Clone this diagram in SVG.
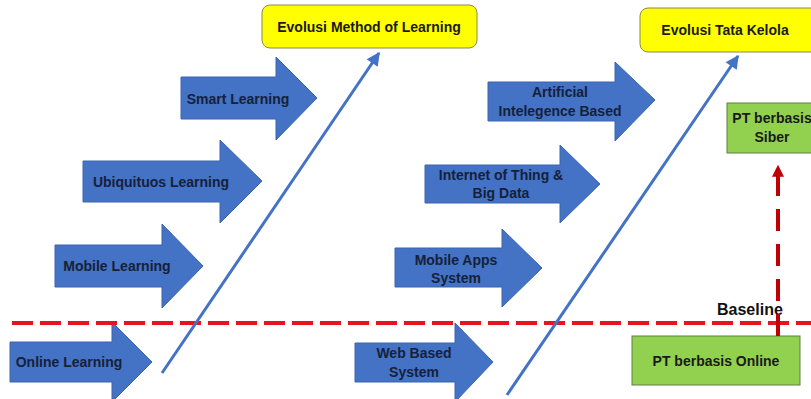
<svg xmlns="http://www.w3.org/2000/svg" width="811" height="399" viewBox="0 0 811 399">
<style>
.arr{fill:#4472C4;stroke:#3A64B0;stroke-width:1}
.at{font-family:"Liberation Sans",Arial,sans-serif;font-weight:bold;font-size:14px;fill:#15213A;text-anchor:middle}
.bt{font-family:"Liberation Sans",Arial,sans-serif;font-weight:bold;font-size:14px;fill:#1A1A1A;text-anchor:middle}
.yel{fill:#FFFF00;stroke:#8A8A4A;stroke-width:1}
.grn{fill:#92D050;stroke:#5E7F45;stroke-width:1}
.diag{stroke:#4472C4;stroke-width:3;fill:none}
</style>
<defs>
<marker id="bh" viewBox="0 0 10 10" refX="9" refY="5" markerWidth="5" markerHeight="4.5" orient="auto" markerUnits="strokeWidth">
<path d="M0,0 L10,5 L0,10 Z" fill="#4472C4"/>
</marker>
<marker id="rh" viewBox="0 0 10 10" refX="9" refY="5" markerWidth="3" markerHeight="3" orient="auto" markerUnits="strokeWidth">
<path d="M0,0 L10,5 L0,10 Z" fill="#C00000"/>
</marker>
</defs>
<rect width="811" height="399" fill="#FFFFFF"/>

<g id="yellow-left">
<rect class="yel" x="262" y="5" width="215" height="43" rx="8"/>
<text class="bt" x="369" y="32">Evolusi Method of Learning</text>
</g>
<g id="yellow-right">
<rect class="yel" x="640" y="8" width="180" height="44" rx="8"/>
<text class="bt" x="725" y="35">Evolusi Tata Kelola</text>
</g>

<g id="smart-learning">
<path class="arr" d="M181,77 H276 V57 L317,98 L276,140 V119 H181 Z"/>
<text class="at" x="238" y="104">Smart Learning</text>
</g>
<g id="ubiquituos-learning">
<path class="arr" d="M83,161 H220 V140 L262,181 L220,223 V202 H83 Z"/>
<text class="at" x="161" y="187">Ubiquituos Learning</text>
</g>
<g id="mobile-learning">
<path class="arr" d="M55,245 H162 V224 L203,266 L162,308 V287 H55 Z"/>
<text class="at" x="117" y="271">Mobile Learning</text>
</g>
<g id="online-learning">
<path class="arr" d="M10,342 H112 V322 L152,362 L112,402 V382 H10 Z"/>
<text class="at" x="69" y="367">Online Learning</text>
</g>

<g id="ai-based">
<path class="arr" d="M488,82 H615 V62 L655,100 L615,141 V121 H488 Z"/>
<text class="at" x="560" y="97">Artificial</text>
<text class="at" x="560" y="116">Intelegence Based</text>
</g>
<g id="iot-bigdata">
<path class="arr" d="M425,165 H560 V145 L600,184 L560,223 V203 H425 Z"/>
<text class="at" x="501" y="180">Internet of Thing &amp;</text>
<text class="at" x="501" y="198">Big Data</text>
</g>
<g id="mobile-apps">
<path class="arr" d="M395,248 H502 V229 L542,268 L502,307 V287 H395 Z"/>
<text class="at" x="456" y="265">Mobile Apps</text>
<text class="at" x="456" y="283">System</text>
</g>
<g id="web-based">
<path class="arr" d="M355,343 H455 V323 L493,362 L455,402 V382 H355 Z"/>
<text class="at" x="414" y="358">Web Based</text>
<text class="at" x="414" y="377">System</text>
</g>

<g id="pt-siber">
<rect class="grn" x="727" y="103" width="92" height="50"/>
<text class="bt" x="772" y="123">PT berbasis</text>
<text class="bt" x="772" y="142">Siber</text>
</g>
<g id="pt-online">
<rect class="grn" x="632" y="336" width="168" height="49"/>
<text class="bt" x="716" y="366">PT berbasis Online</text>
</g>
<g id="baseline-label">
<text x="717" y="315" font-family="'Liberation Sans',Arial,sans-serif" font-weight="bold" font-size="16" fill="#111111">Baseline</text>
</g>

<g id="connectors">
<line x1="12" y1="323" x2="811" y2="323" stroke="#E8141C" stroke-width="4" stroke-dasharray="21 7"/>
<line class="diag" x1="162" y1="373" x2="379" y2="53" marker-end="url(#bh)"/>
<line class="diag" x1="507" y1="395" x2="738" y2="56" marker-end="url(#bh)"/>
<line x1="778" y1="336" x2="778" y2="166" stroke="#C00000" stroke-width="4" stroke-dasharray="22 13" marker-end="url(#rh)"/>
</g>
</svg>
